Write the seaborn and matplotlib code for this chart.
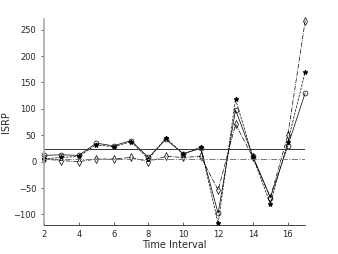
import seaborn as sns
import pandas as pd
import matplotlib.pyplot as plt

# values
t = list(range(2, 18))
circle = [12, 13, 12, 35, 30, 40, 8, 42, 15, 25, -98, 98, 10, -68, 30, 130]
star = [5, 8, 10, 32, 28, 38, 5, 45, 14, 28, -117, 118, 8, -80, 38, 170]
diamond = [5, 2, 0, 5, 5, 8, 0, 10, 8, 10, -54, 71, 8, -68, 50, 267]
mean_solid = 24
mean_dashdot = 5

data = pd.DataFrame({'t': t, 'circle': circle, 'star': star, 'diamond': diamond})

sns.set_style('ticks')
plt.rcParams['font.family'] = ['DejaVu Sans']

fig = plt.figure(figsize=(3.38, 2.54), dpi=100)
ax = fig.add_axes([0.13, 0.114, 0.773, 0.811])

sns.lineplot(x='t', y='circle', data=data, ax=ax, color='black', lw=0.5,
             marker='o', markersize=3.5, markerfacecolor='none', markeredgecolor='black',
             markeredgewidth=0.5, clip_on=False)
sns.lineplot(x='t', y='star', data=data, ax=ax, color='black', lw=0.5, linestyle='--',
             marker='*', markersize=3.5, markeredgecolor='black', clip_on=False)
sns.lineplot(x='t', y='diamond', data=data, ax=ax, color='black', lw=0.5, linestyle='-.',
             marker='d', markersize=4, markerfacecolor='none', markeredgecolor='black',
             markeredgewidth=0.5, clip_on=False)

ax.axhline(mean_solid, color='#333333', lw=0.7)
ax.axhline(mean_dashdot, color='#777777', lw=0.7, linestyle='-.')

ax.set_xlim(2, 17)
ax.set_ylim(-120, 270)
ax.set_xticks(range(2, 17, 2))
ax.set_yticks(range(-100, 251, 50))
ax.tick_params(labelsize=6, length=2, width=0.5)
ax.tick_params(axis='x', direction='in')
ax.set_xlabel('Time Interval', fontsize=7, labelpad=1)
ax.set_ylabel('ISRP', fontsize=7)
ax.yaxis.set_label_coords(-0.125, 0.5)
sns.despine(ax=ax)
ax.spines['left'].set_color('#aaaaaa')
ax.spines['left'].set_linewidth(1.2)
ax.spines['bottom'].set_linewidth(0.6)

fig.savefig('out.png', dpi=100)
